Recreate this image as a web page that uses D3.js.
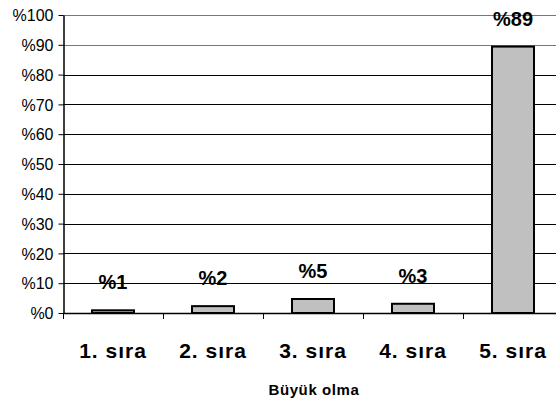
<!DOCTYPE html>
<html><head><meta charset="utf-8">
<script src="https://cdn.jsdelivr.net/npm/d3@7"></script>
<style>body{margin:0;background:#fff}svg{display:block}text{font-family:"Liberation Sans",Arial,sans-serif}</style>
</head><body><svg id="c" width="556" height="405"></svg>
<script>
const categories = ["1. sıra","2. sıra","3. sıra","4. sıra","5. sıra"];
const values = [0.9, 2.3, 4.7, 3.1, 89.4];
const valueLabels = ["%1","%2","%5","%3","%89"];
const yTicks = [0,10,20,30,40,50,60,70,80,90,100];
const axisTitle = "Büyük olma";

const svg = d3.select("#c");
const m = {l:63, r:-7, t:15, b:92};
const W = 556, H = 405;
const x = d3.scaleBand().domain(categories).range([m.l, W - m.r]).paddingInner(0).paddingOuter(0);
const y = d3.scaleLinear().domain([0,100]).range([H - m.b, m.t]);

// gridlines
svg.append("g").selectAll("line").data(yTicks.filter(d=>d>0)).join("line")
  .attr("x1", m.l).attr("x2", W)
  .attr("y1", d=>Math.round(y(d))+0.5).attr("y2", d=>Math.round(y(d))+0.5)
  .attr("stroke", d=> d>=90 ? "#777" : "#000").attr("stroke-width",1);

// y axis
const ya = svg.append("g").attr("transform",`translate(${m.l+0.5},0)`)
  .call(d3.axisLeft(y).tickValues(yTicks).tickFormat(d=>"%"+d).tickSize(5).tickSizeOuter(0));
ya.select(".domain").attr("stroke","#000").attr("stroke-width",1.5);
ya.selectAll(".tick line").attr("stroke","#000");
ya.selectAll(".tick text").attr("font-size",16).attr("fill","#000").attr("x",-10).attr("dy","0.36em");

// bars
const bw = 42;
svg.append("g").selectAll("rect").data(values).join("rect")
  .attr("x", (d,i)=> x(categories[i]) + x.bandwidth()/2 - bw/2)
  .attr("y", d=> y(d))
  .attr("width", bw)
  .attr("height", d=> y(0) - y(d))
  .attr("fill","#c0c0c0").attr("stroke","#000").attr("stroke-width",2);

// x axis
const xa = svg.append("g").attr("transform",`translate(0,${Math.round(y(0))+0.5})`)
  .call(d3.axisBottom(x).tickSize(0).tickSizeOuter(0));
xa.select(".domain").attr("stroke","#000").attr("stroke-width",1.5).attr("d",`M${m.l},0H${W}`);
xa.selectAll(".tick text").attr("font-size",21).attr("font-weight","bold").attr("fill","#000")
  .attr("letter-spacing","1px").attr("y",44).attr("dy",0);
// category boundary ticks
svg.append("g").selectAll("line").data(categories).join("line")
  .attr("x1", d=>Math.round(x(d))+0.5).attr("x2", d=>Math.round(x(d))+0.5)
  .attr("y1", y(0)).attr("y2", y(0)+6).attr("stroke","#000");

// value labels
svg.append("g").selectAll("text").data(values).join("text")
  .attr("x",(d,i)=> x(categories[i]) + x.bandwidth()/2)
  .attr("y", d=> y(d) - 21)
  .attr("text-anchor","middle").attr("font-size",20).attr("font-weight","bold").attr("fill","#000")
  .text((d,i)=>valueLabels[i]);

// axis title
svg.append("text").attr("x", 314).attr("y", 395).attr("text-anchor","middle")
  .attr("font-size",15).attr("font-weight","bold").attr("letter-spacing","0.6px").text(axisTitle);
</script></body></html>
